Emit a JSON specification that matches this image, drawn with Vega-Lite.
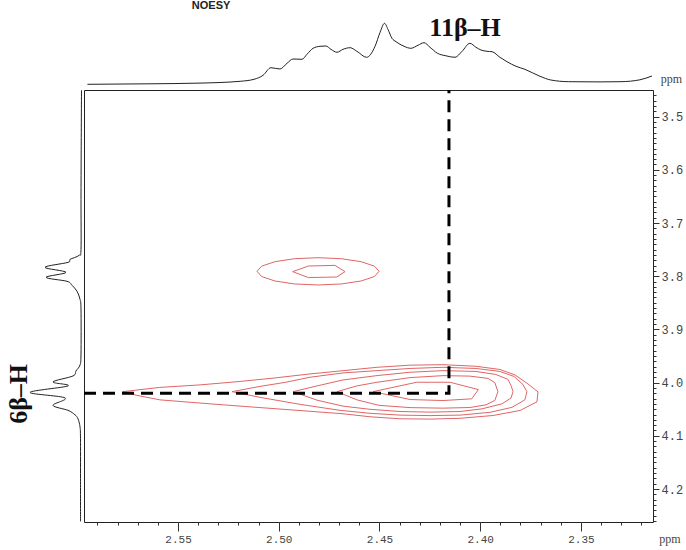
{
  "$schema": "https://vega.github.io/schema/vega-lite/v6.json",
  "background": "white",
  "padding": {"left": 5, "top": 0, "right": 0, "bottom": 0},
  "autosize": {"type": "pad"},
  "config": {"view": {"stroke": null}},
  "datasets": {
    "topSpec": [
      {"p": 2.5950, "i": 0}, {"p": 2.5639, "i": 0.5}, {"p": 2.5391, "i": 1.2}, {"p": 2.5192, "i": 3},
      {"p": 2.5123, "i": 5}, {"p": 2.5078, "i": 9}, {"p": 2.5039, "i": 16.6}, {"p": 2.4994, "i": 15.3},
      {"p": 2.4959, "i": 21}, {"p": 2.4929, "i": 25.3}, {"p": 2.4885, "i": 25}, {"p": 2.4860, "i": 30},
      {"p": 2.4830, "i": 36}, {"p": 2.4795, "i": 38}, {"p": 2.4766, "i": 38.3}, {"p": 2.4741, "i": 35},
      {"p": 2.4711, "i": 32}, {"p": 2.4681, "i": 35}, {"p": 2.4646, "i": 36.6}, {"p": 2.4612, "i": 33},
      {"p": 2.4564, "i": 27}, {"p": 2.4522, "i": 38}, {"p": 2.4497, "i": 52}, {"p": 2.4475, "i": 61},
      {"p": 2.4458, "i": 55}, {"p": 2.4438, "i": 46}, {"p": 2.4418, "i": 42.6}, {"p": 2.4378, "i": 38},
      {"p": 2.4344, "i": 36}, {"p": 2.4309, "i": 39}, {"p": 2.4279, "i": 41.6}, {"p": 2.4249, "i": 37},
      {"p": 2.4212, "i": 31}, {"p": 2.4170, "i": 28.5}, {"p": 2.4125, "i": 27}, {"p": 2.4090, "i": 33},
      {"p": 2.4051, "i": 41}, {"p": 2.4021, "i": 37}, {"p": 2.3996, "i": 34.3}, {"p": 2.3966, "i": 33},
      {"p": 2.3941, "i": 32.6}, {"p": 2.3902, "i": 27}, {"p": 2.3867, "i": 22.6}, {"p": 2.3822, "i": 18},
      {"p": 2.3778, "i": 15}, {"p": 2.3703, "i": 8}, {"p": 2.3649, "i": 4.3}, {"p": 2.3561, "i": 2.6},
      {"p": 2.3405, "i": 2.4}, {"p": 2.3301, "i": 2.6}, {"p": 2.3207, "i": 4.5}, {"p": 2.3147, "i": 8.3}
    ],
    "leftSpec": [
      {"k": 0, "p": 3.4500, "i": -0.5}, {"k": 1, "p": 3.5624, "i": -0.2}, {"k": 2, "p": 3.6560, "i": 0},
      {"k": 3, "p": 3.7496, "i": 0}, {"k": 4, "p": 3.7609, "i": 2}, {"k": 5, "p": 3.7684, "i": 11},
      {"k": 6, "p": 3.7740, "i": 13}, {"k": 7, "p": 3.7833, "i": 36}, {"k": 8, "p": 3.7927, "i": 15},
      {"k": 9, "p": 3.8021, "i": 35}, {"k": 10, "p": 3.8096, "i": 14}, {"k": 11, "p": 3.8171, "i": 9},
      {"k": 12, "p": 3.8283, "i": 4}, {"k": 13, "p": 3.8433, "i": 1}, {"k": 14, "p": 3.8620, "i": 0},
      {"k": 15, "p": 3.9463, "i": 0}, {"k": 16, "p": 3.9669, "i": 1}, {"k": 17, "p": 3.9781, "i": 5},
      {"k": 18, "p": 3.9875, "i": 8}, {"k": 19, "p": 3.9987, "i": 28}, {"k": 20, "p": 4.0062, "i": 13},
      {"k": 21, "p": 4.0184, "i": 51}, {"k": 22, "p": 4.0287, "i": 16}, {"k": 23, "p": 4.0427, "i": 28},
      {"k": 24, "p": 4.0521, "i": 13}, {"k": 25, "p": 4.0605, "i": 6}, {"k": 26, "p": 4.0680, "i": 3},
      {"k": 27, "p": 4.0830, "i": 1}, {"k": 28, "p": 4.1055, "i": 0.5}, {"k": 29, "p": 4.1803, "i": 0.5},
      {"k": 30, "p": 4.2609, "i": 0.5}
    ],
    "contours": [
      {"c": 1, "k": 0, "x": 2.5775, "y": 4.0170}, {"c": 1, "k": 1, "x": 2.5590, "y": 4.0090},
      {"c": 1, "k": 2, "x": 2.5391, "y": 4.0043}, {"c": 1, "k": 3, "x": 2.5192, "y": 3.9978},
      {"c": 1, "k": 4, "x": 2.5019, "y": 3.9912}, {"c": 1, "k": 5, "x": 2.4845, "y": 3.9837},
      {"c": 1, "k": 6, "x": 2.4671, "y": 3.9772}, {"c": 1, "k": 7, "x": 2.4512, "y": 3.9712},
      {"c": 1, "k": 8, "x": 2.4348, "y": 3.9672}, {"c": 1, "k": 9, "x": 2.4185, "y": 3.9663},
      {"c": 1, "k": 10, "x": 2.4021, "y": 3.9693}, {"c": 1, "k": 11, "x": 2.3902, "y": 3.9753},
      {"c": 1, "k": 12, "x": 2.3827, "y": 3.9856}, {"c": 1, "k": 13, "x": 2.3763, "y": 4.0024},
      {"c": 1, "k": 14, "x": 2.3713, "y": 4.0174}, {"c": 1, "k": 15, "x": 2.3718, "y": 4.0361},
      {"c": 1, "k": 16, "x": 2.3802, "y": 4.0524}, {"c": 1, "k": 17, "x": 2.3936, "y": 4.0618},
      {"c": 1, "k": 18, "x": 2.4100, "y": 4.0671}, {"c": 1, "k": 19, "x": 2.4249, "y": 4.0686},
      {"c": 1, "k": 20, "x": 2.4398, "y": 4.0680}, {"c": 1, "k": 21, "x": 2.4547, "y": 4.0642},
      {"c": 1, "k": 22, "x": 2.4681, "y": 4.0586}, {"c": 1, "k": 23, "x": 2.4845, "y": 4.0539},
      {"c": 1, "k": 24, "x": 2.5009, "y": 4.0493}, {"c": 1, "k": 25, "x": 2.5177, "y": 4.0446},
      {"c": 1, "k": 26, "x": 2.5341, "y": 4.0399}, {"c": 1, "k": 27, "x": 2.5465, "y": 4.0362},
      {"c": 1, "k": 28, "x": 2.5590, "y": 4.0324}, {"c": 1, "k": 29, "x": 2.5704, "y": 4.0240},

      {"c": 2, "k": 0, "x": 2.5232, "y": 4.0170}, {"c": 2, "k": 1, "x": 2.5093, "y": 4.0071},
      {"c": 2, "k": 2, "x": 2.4969, "y": 3.9996}, {"c": 2, "k": 3, "x": 2.4845, "y": 3.9899},
      {"c": 2, "k": 4, "x": 2.4681, "y": 3.9818}, {"c": 2, "k": 5, "x": 2.4512, "y": 3.9775},
      {"c": 2, "k": 6, "x": 2.4348, "y": 3.9734}, {"c": 2, "k": 7, "x": 2.4185, "y": 3.9712},
      {"c": 2, "k": 8, "x": 2.4021, "y": 3.9734}, {"c": 2, "k": 9, "x": 2.3902, "y": 3.9790},
      {"c": 2, "k": 10, "x": 2.3832, "y": 3.9884}, {"c": 2, "k": 11, "x": 2.3788, "y": 4.0034},
      {"c": 2, "k": 12, "x": 2.3768, "y": 4.0170}, {"c": 2, "k": 13, "x": 2.3778, "y": 4.0324},
      {"c": 2, "k": 14, "x": 2.3842, "y": 4.0465}, {"c": 2, "k": 15, "x": 2.3951, "y": 4.0558},
      {"c": 2, "k": 16, "x": 2.4100, "y": 4.0611}, {"c": 2, "k": 17, "x": 2.4249, "y": 4.0620},
      {"c": 2, "k": 18, "x": 2.4398, "y": 4.0611}, {"c": 2, "k": 19, "x": 2.4547, "y": 4.0577},
      {"c": 2, "k": 20, "x": 2.4696, "y": 4.0521}, {"c": 2, "k": 21, "x": 2.4895, "y": 4.0408},
      {"c": 2, "k": 22, "x": 2.5093, "y": 4.0277},

      {"c": 3, "k": 0, "x": 2.4929, "y": 4.0170}, {"c": 3, "k": 1, "x": 2.4810, "y": 4.0062},
      {"c": 3, "k": 2, "x": 2.4681, "y": 3.9950}, {"c": 3, "k": 3, "x": 2.4512, "y": 3.9868},
      {"c": 3, "k": 4, "x": 2.4348, "y": 3.9805}, {"c": 3, "k": 5, "x": 2.4185, "y": 3.9775},
      {"c": 3, "k": 6, "x": 2.4021, "y": 3.9790}, {"c": 3, "k": 7, "x": 2.3922, "y": 3.9847},
      {"c": 3, "k": 8, "x": 2.3862, "y": 3.9940}, {"c": 3, "k": 9, "x": 2.3847, "y": 4.0052},
      {"c": 3, "k": 10, "x": 2.3837, "y": 4.0170}, {"c": 3, "k": 11, "x": 2.3847, "y": 4.0290},
      {"c": 3, "k": 12, "x": 2.3892, "y": 4.0399}, {"c": 3, "k": 13, "x": 2.3991, "y": 4.0493},
      {"c": 3, "k": 14, "x": 2.4100, "y": 4.0543}, {"c": 3, "k": 15, "x": 2.4249, "y": 4.0555},
      {"c": 3, "k": 16, "x": 2.4398, "y": 4.0543}, {"c": 3, "k": 17, "x": 2.4547, "y": 4.0502},
      {"c": 3, "k": 18, "x": 2.4681, "y": 4.0442}, {"c": 3, "k": 19, "x": 2.4810, "y": 4.0330},

      {"c": 4, "k": 0, "x": 2.4711, "y": 4.0170}, {"c": 4, "k": 1, "x": 2.4612, "y": 4.0062},
      {"c": 4, "k": 2, "x": 2.4512, "y": 3.9993}, {"c": 4, "k": 3, "x": 2.4348, "y": 3.9906},
      {"c": 4, "k": 4, "x": 2.4185, "y": 3.9869}, {"c": 4, "k": 5, "x": 2.4051, "y": 3.9878},
      {"c": 4, "k": 6, "x": 2.3961, "y": 3.9921}, {"c": 4, "k": 7, "x": 2.3927, "y": 4.0002},
      {"c": 4, "k": 8, "x": 2.3912, "y": 4.0170}, {"c": 4, "k": 9, "x": 2.3927, "y": 4.0334},
      {"c": 4, "k": 10, "x": 2.3971, "y": 4.0418}, {"c": 4, "k": 11, "x": 2.4051, "y": 4.0468},
      {"c": 4, "k": 12, "x": 2.4185, "y": 4.0480}, {"c": 4, "k": 13, "x": 2.4348, "y": 4.0470},
      {"c": 4, "k": 14, "x": 2.4502, "y": 4.0427}, {"c": 4, "k": 15, "x": 2.4612, "y": 4.0324},

      {"c": 5, "k": 0, "x": 2.4532, "y": 4.0170}, {"c": 5, "k": 1, "x": 2.4315, "y": 3.9993},
      {"c": 5, "k": 2, "x": 2.4150, "y": 3.9993}, {"c": 5, "k": 3, "x": 2.4009, "y": 4.0131},
      {"c": 5, "k": 4, "x": 2.4042, "y": 4.0305}, {"c": 5, "k": 5, "x": 2.4185, "y": 4.0337},
      {"c": 5, "k": 6, "x": 2.4348, "y": 4.0318},

      {"c": 6, "k": 0, "x": 2.4502, "y": 3.7908}, {"c": 6, "k": 1, "x": 2.4525, "y": 3.7811},
      {"c": 6, "k": 2, "x": 2.4591, "y": 3.7727}, {"c": 6, "k": 3, "x": 2.4690, "y": 3.7671},
      {"c": 6, "k": 4, "x": 2.4805, "y": 3.7652}, {"c": 6, "k": 5, "x": 2.4921, "y": 3.7671},
      {"c": 6, "k": 6, "x": 2.5019, "y": 3.7727}, {"c": 6, "k": 7, "x": 2.5085, "y": 3.7811},
      {"c": 6, "k": 8, "x": 2.5108, "y": 3.7908}, {"c": 6, "k": 9, "x": 2.5085, "y": 3.8006},
      {"c": 6, "k": 10, "x": 2.5019, "y": 3.8090}, {"c": 6, "k": 11, "x": 2.4921, "y": 3.8146},
      {"c": 6, "k": 12, "x": 2.4805, "y": 3.8165}, {"c": 6, "k": 13, "x": 2.4690, "y": 3.8146},
      {"c": 6, "k": 14, "x": 2.4591, "y": 3.8090}, {"c": 6, "k": 15, "x": 2.4525, "y": 3.8006},

      {"c": 7, "k": 0, "x": 2.4931, "y": 3.7914}, {"c": 7, "k": 1, "x": 2.4853, "y": 3.7809},
      {"c": 7, "k": 2, "x": 2.4721, "y": 3.7796}, {"c": 7, "k": 3, "x": 2.4671, "y": 3.7914},
      {"c": 7, "k": 4, "x": 2.4712, "y": 3.8015}, {"c": 7, "k": 5, "x": 2.4853, "y": 3.8026}
    ],
    "guide": [
      {"k": 0, "x": 2.5967, "y": 4.02},
      {"k": 1, "x": 2.4155, "y": 4.02},
      {"k": 2, "x": 2.4155, "y": 3.45}
    ]
  },
  "columns": 2,
  "align": "each",
  "bounds": "flush",
  "spacing": {"row": 4, "column": 2},
  "concat": [
    {
      "width": 77,
      "height": 68,
      "data": {"values": [{}]},
      "mark": {"type": "point", "opacity": 0},
      "encoding": {}
    },
    {
      "width": 569,
      "height": 68,
      "layer": [
        {
          "data": {"name": "topSpec"},
          "mark": {"type": "line", "color": "#222", "strokeWidth": 1, "interpolate": "monotone"},
          "encoding": {
            "x": {"field": "p", "type": "quantitative", "scale": {"domain": [2.3142, 2.5967], "reverse": true, "nice": false, "zero": false}, "axis": null},
            "y": {"field": "i", "type": "quantitative", "scale": {"domain": [-1.7, 66.3], "nice": false, "zero": false}, "axis": null}
          }
        },
        {
          "data": {"values": [{"p": 2.4075, "i": 48.8, "t": "11β–H"}]},
          "mark": {"type": "text", "font": "Liberation Serif", "fontWeight": "bold", "fontSize": 26, "align": "center", "baseline": "alphabetic", "color": "#111"},
          "encoding": {
            "x": {"field": "p", "type": "quantitative", "scale": {"domain": [2.3142, 2.5967], "reverse": true, "nice": false, "zero": false}, "axis": null},
            "y": {"field": "i", "type": "quantitative", "scale": {"domain": [-1.7, 66.3], "nice": false, "zero": false}, "axis": null},
            "text": {"field": "t"}
          }
        },
        {
          "data": {"values": [{"p": 2.5336, "i": 75.3, "t": "NOESY"}]},
          "mark": {"type": "text", "font": "Liberation Sans", "fontWeight": "bold", "fontSize": 11, "align": "center", "baseline": "alphabetic", "color": "#222"},
          "encoding": {
            "x": {"field": "p", "type": "quantitative", "scale": {"domain": [2.3142, 2.5967], "reverse": true, "nice": false, "zero": false}, "axis": null},
            "y": {"field": "i", "type": "quantitative", "scale": {"domain": [-1.7, 66.3], "nice": false, "zero": false}, "axis": null},
            "text": {"field": "t"}
          }
        },
        {
          "data": {"values": [{"p": 2.3050, "i": 5.3, "t": "ppm"}]},
          "mark": {"type": "text", "font": "Liberation Serif", "fontSize": 12, "align": "center", "baseline": "middle", "color": "#444"},
          "encoding": {
            "x": {"field": "p", "type": "quantitative", "scale": {"domain": [2.3142, 2.5967], "reverse": true, "nice": false, "zero": false}, "axis": null},
            "y": {"field": "i", "type": "quantitative", "scale": {"domain": [-1.7, 66.3], "nice": false, "zero": false}, "axis": null},
            "text": {"field": "t"}
          }
        }
      ]
    },
    {
      "width": 77,
      "height": 432,
      "layer": [
        {
          "data": {"name": "leftSpec"},
          "mark": {"type": "line", "color": "#222", "strokeWidth": 1, "interpolate": "cardinal"},
          "encoding": {
            "x": {"field": "i", "type": "quantitative", "scale": {"domain": [-1, 76], "reverse": true, "nice": false, "zero": false}, "axis": null},
            "y": {"field": "p", "type": "quantitative", "scale": {"domain": [3.45, 4.262], "reverse": true, "nice": false, "zero": false}, "axis": null},
            "order": {"field": "k", "type": "quantitative"}
          }
        },
        {
          "data": {"values": [{"i": 62, "p": 4.0212, "t": "6β–H"}]},
          "mark": {"type": "text", "font": "Liberation Serif", "fontWeight": "bold", "fontSize": 26, "angle": 270, "align": "center", "baseline": "middle", "color": "#111"},
          "encoding": {
            "x": {"field": "i", "type": "quantitative", "scale": {"domain": [-1, 76], "reverse": true, "nice": false, "zero": false}, "axis": null},
            "y": {"field": "p", "type": "quantitative", "scale": {"domain": [3.45, 4.262], "reverse": true, "nice": false, "zero": false}, "axis": null},
            "text": {"field": "t"}
          }
        }
      ]
    },
    {
      "width": 569,
      "height": 432,
      "view": {"stroke": "#222", "strokeWidth": 1},
      "resolve": {"axis": {"x": "independent", "y": "independent"}},
      "layer": [
        {
          "data": {"name": "contours"},
          "mark": {"type": "line", "interpolate": "linear-closed", "color": "#e06666", "strokeWidth": 1},
          "encoding": {
            "x": {
              "field": "x", "type": "quantitative",
              "scale": {"domain": [2.3142, 2.5967], "reverse": true, "nice": false, "zero": false},
              "axis": {"orient": "bottom", "values": [2.35, 2.4, 2.45, 2.5, 2.55], "format": ".2f", "title": null, "domain": false, "grid": false, "tickSize": 9, "tickColor": "#333", "labelFont": "Liberation Mono", "labelFontSize": 11, "labelColor": "#444", "labelPadding": 2}
            },
            "y": {
              "field": "y", "type": "quantitative",
              "scale": {"domain": [3.45, 4.262], "reverse": true, "nice": false, "zero": false},
              "axis": {"orient": "right", "values": [3.5, 3.6, 3.7, 3.8, 3.9, 4.0, 4.1, 4.2], "format": ".1f", "title": null, "domain": false, "grid": false, "tickSize": 6, "tickColor": "#333", "labelFont": "Liberation Mono", "labelFontSize": 12, "labelColor": "#444", "labelPadding": 2}
            },
            "detail": {"field": "c", "type": "nominal"},
            "order": {"field": "k", "type": "quantitative"}
          }
        },
        {
          "data": {"name": "guide"},
          "mark": {"type": "line", "color": "#000", "strokeWidth": 3, "strokeDash": [12, 7]},
          "encoding": {
            "x": {
              "field": "x", "type": "quantitative",
              "scale": {"domain": [2.3142, 2.5967], "reverse": true, "nice": false, "zero": false},
              "axis": {"orient": "bottom", "values": [2.32, 2.33, 2.34, 2.35, 2.36, 2.37, 2.38, 2.39, 2.4, 2.41, 2.42, 2.43, 2.44, 2.45, 2.46, 2.47, 2.48, 2.49, 2.5, 2.51, 2.52, 2.53, 2.54, 2.55, 2.56, 2.57, 2.58, 2.59], "labels": false, "title": null, "domain": false, "grid": false, "tickSize": 3, "tickColor": "#333"}
            },
            "y": {
              "field": "y", "type": "quantitative",
              "scale": {"domain": [3.45, 4.262], "reverse": true, "nice": false, "zero": false},
              "axis": {"orient": "right", "values": [3.46, 3.47, 3.48, 3.49, 3.5, 3.51, 3.52, 3.53, 3.54, 3.55, 3.56, 3.57, 3.58, 3.59, 3.6, 3.61, 3.62, 3.63, 3.64, 3.65, 3.66, 3.67, 3.68, 3.69, 3.7, 3.71, 3.72, 3.73, 3.74, 3.75, 3.76, 3.77, 3.78, 3.79, 3.8, 3.81, 3.82, 3.83, 3.84, 3.85, 3.86, 3.87, 3.88, 3.89, 3.9, 3.91, 3.92, 3.93, 3.94, 3.95, 3.96, 3.97, 3.98, 3.99, 4.0, 4.01, 4.02, 4.03, 4.04, 4.05, 4.06, 4.07, 4.08, 4.09, 4.1, 4.11, 4.12, 4.13, 4.14, 4.15, 4.16, 4.17, 4.18, 4.19, 4.2, 4.21, 4.22, 4.23, 4.24, 4.25, 4.26], "labels": false, "title": null, "domain": false, "grid": false, "tickSize": 3, "tickColor": "#333"}
            },
            "order": {"field": "k", "type": "quantitative"}
          }
        },
        {
          "data": {"values": [{"x": 2.3058, "y": 4.2946, "t": "ppm"}]},
          "mark": {"type": "text", "font": "Liberation Serif", "fontSize": 12, "align": "center", "baseline": "middle", "color": "#444"},
          "encoding": {
            "x": {"field": "x", "type": "quantitative", "scale": {"domain": [2.3142, 2.5967], "reverse": true, "nice": false, "zero": false}, "axis": null},
            "y": {"field": "y", "type": "quantitative", "scale": {"domain": [3.45, 4.262], "reverse": true, "nice": false, "zero": false}, "axis": null},
            "text": {"field": "t"}
          }
        }
      ]
    }
  ]
}
